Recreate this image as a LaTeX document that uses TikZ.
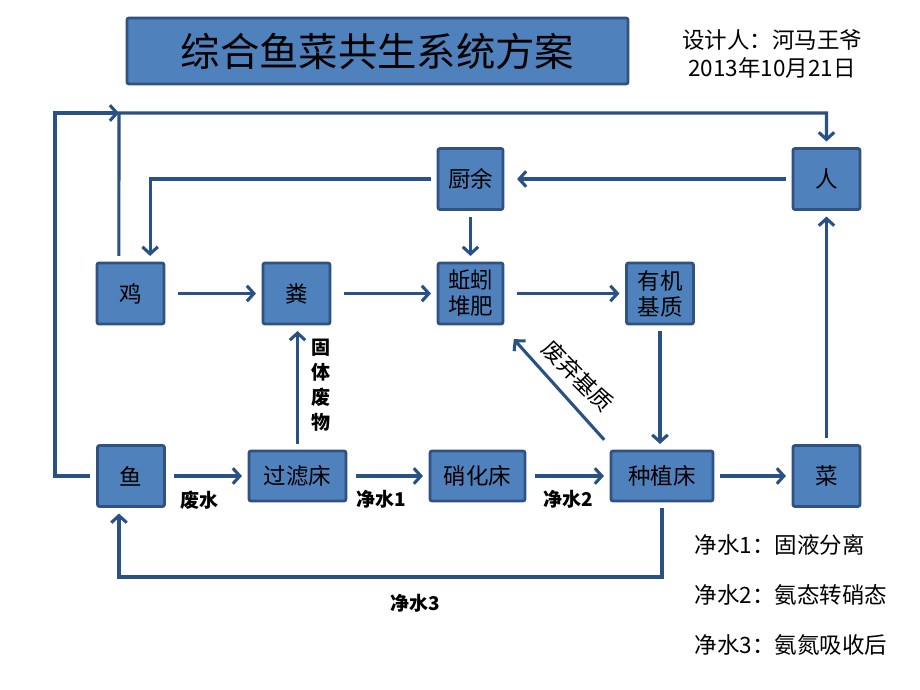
\documentclass[tikz,border=0pt]{standalone}
\usepackage{fontspec}
\setmainfont{Noto Sans CJK SC}
\usetikzlibrary{arrows.meta}

\definecolor{boxfill}{HTML}{4F81BD}
\definecolor{boxline}{HTML}{2F5283}
\definecolor{flowline}{HTML}{2A5185}

\tikzset{
  box/.style={draw=boxline, fill=boxfill, line width=2pt, rounded corners=1.5pt,
    minimum width=1.675cm, minimum height=1.525cm, inner sep=1pt, outer sep=5pt,
    align=center, font=\fontsize{16}{18.5}\selectfont},
  bed/.style={box, minimum height=1.25cm},
  flow/.style={draw=flowline, line width=2.2pt, -{Straight Barb[length=5pt,width=11pt]}},
  lab/.style={font=\bfseries\fontsize{13.5}{17.8}\selectfont},
  note/.style={font=\fontsize{16}{19}\selectfont}
}

\begin{document}
\begin{tikzpicture}[x=0.025cm, y=-0.025cm]
    \useasboundingbox[fill=white] (0,0) rectangle (920,690);

    \node[box, minimum width=12.525cm, minimum height=1.65cm, font=\fontsize{28}{30}\selectfont] (title) at (377.5,51) {综合鱼菜共生系统方案};
    \node[note] (author) at (772,40) {设计人：河马王爷};
    \node[note] (date) at (772,68) {2013年10月21日};

    \node[box] (ren) at (826.5,179) {人};
    \node[box, minimum width=1.625cm] (chuyu) at (470.5,179) {厨余};
    \node[box] (ji) at (130.5,293.5) {鸡};
    \node[box] (fen) at (296.5,293.5) {粪};
    \node[box, minimum width=1.625cm] (qiuyin) at (470.5,293.5) {蚯蚓\\堆肥};
    \node[box] (youji) at (660,293.5) {有机\\基质};
    \node[box] (yu) at (131,476) {鱼};
    \node[bed, minimum width=2.425cm] (guolv) at (297.5,476) {过滤床};
    \node[bed, minimum width=2.375cm] (xiaohua) at (477.5,476) {硝化床};
    \node[bed, minimum width=2.55cm] (zhongzhi) at (662,476) {种植床};
    \node[box] (cai) at (826.5,476) {菜};

    \coordinate (loopL) at (55,113);
    \coordinate (jiup) at (119,113);
    \coordinate (loopB) at (400,577);

    \draw[flow, shorten <=5pt] (ji) -- (fen);
    \draw[flow, shorten <=5pt] (fen) -- (qiuyin);
    \draw[flow, shorten <=5pt] (qiuyin) -- (youji);
    \draw[flow] (chuyu) -- (qiuyin);
    \draw[flow, shorten >=5pt] (ren) -- (chuyu);
    \draw[flow] (chuyu.west) -| ([xshift=0.49cm]ji.north);
    \draw[flow] ([xshift=-0.29cm]ji.north) -- (jiup) -| (ren.north);
    \draw[flow] (yu.west) -| (loopL) -- (jiup);
    \draw[flow] (youji) -- (youji |- zhongzhi.north);
    \draw[flow, shorten <=4pt, shorten >=4pt] ([xshift=0.1cm]zhongzhi.north west) -- ([yshift=-0.1cm]qiuyin.south east);
    \draw[flow] (guolv) -- (guolv |- fen.south);
    \draw[flow, shorten <=2pt] (yu) -- (guolv);
    \draw[flow, shorten <=2pt] (guolv) -- (xiaohua);
    \draw[flow, shorten <=2pt] (xiaohua) -- (zhongzhi);
    \draw[flow] (zhongzhi) -- (cai);
    \draw[flow] (cai) -- (ren);
    \draw[flow] (zhongzhi.south) |- (loopB) -| ([xshift=-0.3cm]yu.south);

    \node[lab] (feishui) at (199,500) {废水};
    \node[lab] (jingshui1) at (381,499) {净水1};
    \node[lab] (jingshui2) at (568,499) {净水2};
    \node[lab] (jingshui3) at (415,603) {净水3};
    \node[lab, align=center] (guti) at (321,385) {固\\体\\废\\物};
    \node[rotate=-45, font=\fontsize{16}{18}\selectfont] (feiqi) at (578,376) {废弃基质};

    \node[note, anchor=west] (note1) at (690,545) {净水1：固液分离};
    \node[note, anchor=west] (note2) at (690,595) {净水2：氨态转硝态};
    \node[note, anchor=west] (note3) at (690,645) {净水3：氨氮吸收后};

  \end{tikzpicture}
\end{document}
